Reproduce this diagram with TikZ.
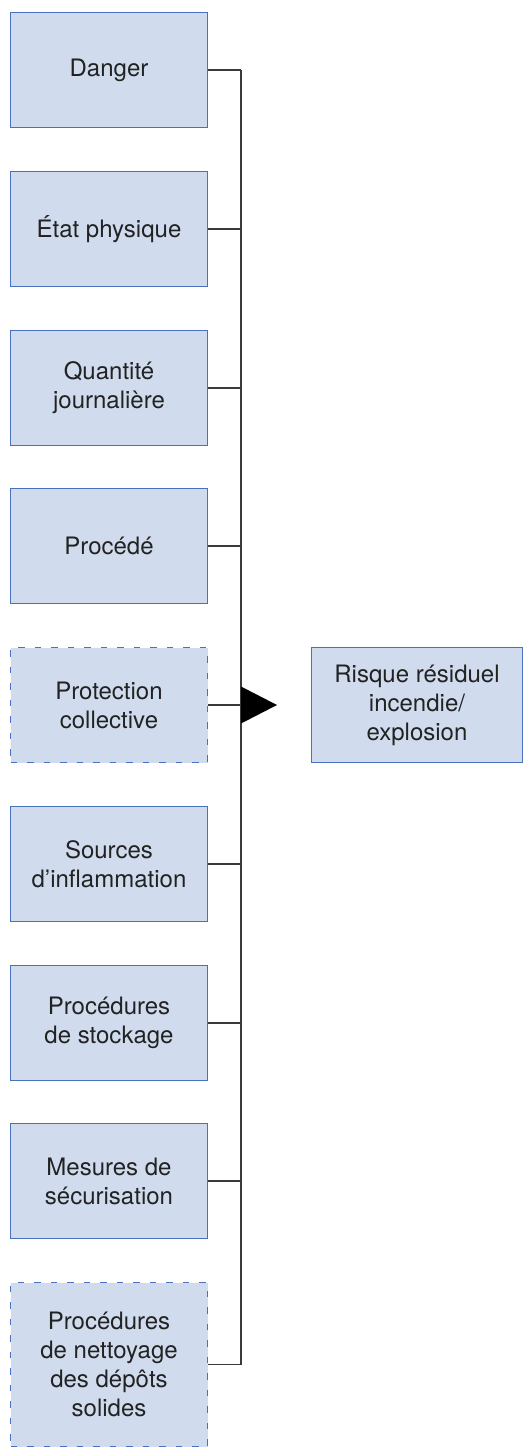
\documentclass[tikz,border=0pt]{standalone}
\usepackage{fontspec}
\setmainfont{TeX Gyre Heros}
\usetikzlibrary{calc}
\definecolor{boxfill}{HTML}{D0DCEE}
\definecolor{boxline}{HTML}{4A70C0}
\definecolor{wire}{HTML}{3A3A3A}
\definecolor{txt}{HTML}{222222}
\begin{document}
\begin{tikzpicture}[x=1pt,y=-1pt,
  factor/.style={draw=boxline, line width=1pt, fill=boxfill, text=txt,
    minimum width=197pt, minimum height=115pt, inner sep=0pt,
    align=center, font=\fontsize{24}{29}\selectfont, anchor=north west},
  optional/.style={dash pattern=on 6.5pt off 10pt},
  link/.style={draw=wire, line width=1.3pt}]
\useasboundingbox (0,0) rectangle (527,1447);
% input factors, one below the other
\node[factor] (b1) at (10,12)   {Danger};
\node[factor] (b2) at (10,171)  {État physique};
\node[factor] (b3) at (10,330)  {Quantité\\journalière};
\node[factor] (b4) at (10,488)  {Procédé};
\node[factor,optional] (b5) at (10,647) {Protection\\collective};
\node[factor] (b6) at (10,806)  {Sources\\d’inflammation};
\node[factor] (b7) at (10,965)  {Procédures\\de stockage};
\node[factor] (b8) at (10,1123) {Mesures de\\sécurisation};
\node[factor,optional,minimum height=164pt] (b9) at (10,1282) {Procédures\\de nettoyage\\des dépôts\\solides};
% resulting risk
\node[factor,minimum width=211pt] (res) at (311,647) {Risque résiduel\\incendie/\\explosion};
% collecting bus
\coordinate (top) at (241,0 |- b1.east);
\coordinate (bot) at (241,0 |- b9.east);
\coordinate (bus) at (241,0 |- b5.east);
\coordinate (tip) at (277,0 |- b5.east);
\draw[link] (top) -- (bot);
\foreach \b in {b1,b2,b3,b4,b5,b6,b7,b8,b9}
  \draw[link] (\b.east) -- (\b.east -| bus);
% solid arrowhead pointing to the result
\fill[black] ($(bus)+(0,-18.5)$) -- (tip) -- ($(bus)+(0,18.5)$) -- cycle;
\end{tikzpicture}
\end{document}
